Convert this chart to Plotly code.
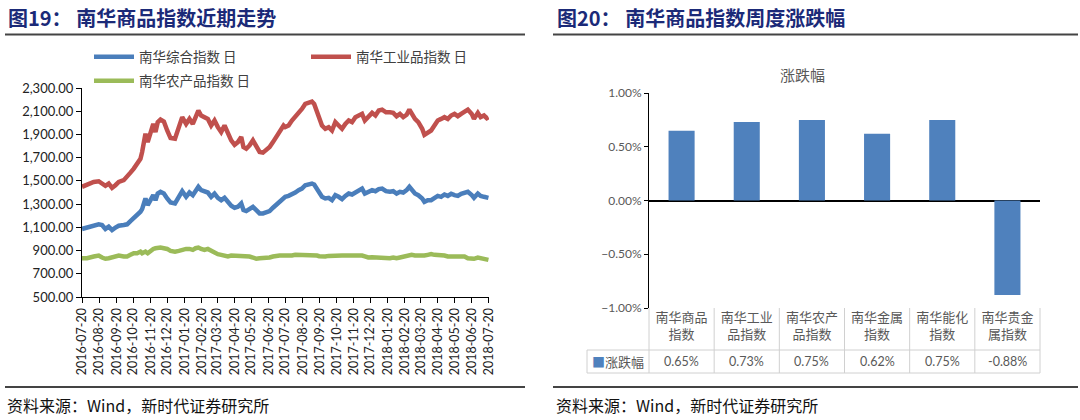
import plotly.graph_objects as go

# ---------------- data: left chart (南华商品指数近期走势) ----------------
dates = [
    "2016-07-20", "2016-07-29", "2016-08-10", "2016-08-19", "2016-08-25", "2016-08-31",
    "2016-09-06", "2016-09-12", "2016-09-18", "2016-09-24", "2016-10-03", "2016-10-09",
    "2016-10-15", "2016-10-21", "2016-10-27", "2016-11-02", "2016-11-05", "2016-11-11",
    "2016-11-15", "2016-11-20", "2016-11-25", "2016-11-29", "2016-12-03", "2016-12-08",
    "2016-12-14", "2016-12-20", "2016-12-26", "2017-01-03", "2017-01-10", "2017-01-16",
    "2017-01-23", "2017-01-29", "2017-02-04", "2017-02-09", "2017-02-14", "2017-02-19",
    "2017-02-25", "2017-03-03", "2017-03-09", "2017-03-15", "2017-03-21", "2017-03-27",
    "2017-04-02", "2017-04-08", "2017-04-14", "2017-04-20", "2017-04-26", "2017-05-02",
    "2017-05-06", "2017-05-11", "2017-05-17", "2017-05-23", "2017-05-29", "2017-06-04",
    "2017-06-10", "2017-06-16", "2017-06-22", "2017-06-28", "2017-07-04", "2017-07-10",
    "2017-07-17", "2017-07-20", "2017-07-26", "2017-08-01", "2017-08-07", "2017-08-13",
    "2017-08-19", "2017-08-25", "2017-08-31", "2017-09-06", "2017-09-10", "2017-09-15",
    "2017-09-19", "2017-09-24", "2017-09-30", "2017-10-06", "2017-10-12", "2017-10-18",
    "2017-10-24", "2017-10-30", "2017-11-05", "2017-11-11", "2017-11-17", "2017-11-23",
    "2017-11-29", "2017-12-05", "2017-12-10", "2017-12-16", "2017-12-23", "2017-12-29",
    "2018-01-04", "2018-01-10", "2018-01-17", "2018-01-24", "2018-01-30", "2018-02-05",
    "2018-02-11", "2018-02-17", "2018-02-23", "2018-02-28", "2018-03-04", "2018-03-10",
    "2018-03-16", "2018-03-23", "2018-03-27", "2018-04-02", "2018-04-08", "2018-04-14",
    "2018-04-20", "2018-04-26", "2018-05-02", "2018-05-08", "2018-05-14", "2018-05-20",
    "2018-05-26", "2018-06-01", "2018-06-07", "2018-06-13", "2018-06-20", "2018-06-24",
    "2018-07-01", "2018-07-06", "2018-07-12", "2018-07-17", "2018-07-20",
]

industrial = [  # 南华工业品指数
    1449, 1469, 1491, 1497, 1477, 1457, 1477, 1440, 1463, 1491, 1506, 1534,
    1571, 1606, 1649, 1691, 1749, 1906, 1834, 1920, 1991, 1920, 2006, 2029,
    2011, 1934, 1869, 1863, 1963, 2049, 1991, 2034, 1991, 2063, 2106, 2063,
    2049, 2034, 1977, 2020, 1963, 1920, 1977, 1906, 1849, 1811, 1834, 1877,
    1791, 1777, 1806, 1849, 1791, 1749, 1743, 1763, 1791, 1834, 1877, 1920,
    1977, 1963, 1977, 2020, 2049, 2091, 2120, 2163, 2171, 2183, 2163, 2091,
    2034, 1977, 1949, 1963, 1934, 2006, 1977, 1949, 1991, 2020, 2006, 2049,
    2063, 2077, 2020, 2049, 2086, 2063, 2106, 2114, 2091, 2091, 2086, 2057,
    2077, 2049, 2069, 2114, 2077, 2034, 2006, 1949, 1897, 1920, 1934, 1977,
    2020, 2034, 2049, 2034, 2063, 2077, 2057, 2077, 2091, 2114, 2077, 2034,
    2086, 2049, 2063, 2040, 2049,
]

composite = [  # 南华综合指数
    1086, 1097, 1120, 1126, 1120, 1086, 1106, 1077, 1097, 1114, 1120, 1126,
    1154, 1177, 1206, 1234, 1257, 1349, 1291, 1334, 1377, 1334, 1391, 1406,
    1391, 1349, 1314, 1306, 1363, 1411, 1363, 1400, 1377, 1411, 1449, 1420,
    1411, 1400, 1363, 1391, 1354, 1334, 1354, 1320, 1286, 1269, 1277, 1306,
    1249, 1240, 1257, 1277, 1249, 1220, 1220, 1234, 1240, 1269, 1297, 1320,
    1349, 1363, 1371, 1383, 1400, 1420, 1434, 1463, 1469, 1477, 1469, 1434,
    1400, 1363, 1349, 1354, 1334, 1377, 1363, 1343, 1371, 1391, 1383, 1400,
    1411, 1434, 1391, 1400, 1420, 1411, 1429, 1434, 1411, 1406, 1411, 1391,
    1406, 1400, 1420, 1449, 1420, 1391, 1377, 1349, 1320, 1334, 1334, 1349,
    1371, 1363, 1383, 1371, 1389, 1377, 1371, 1389, 1400, 1406, 1377, 1354,
    1391, 1371, 1363, 1363, 1354,
]

agricultural = [  # 南华农产品指数
    834, 834, 849, 857, 840, 829, 834, 840, 849, 857, 849, 849,
    863, 877, 877, 891, 877, 891, 877, 897, 914, 920, 926, 926,
    920, 914, 897, 891, 897, 906, 914, 914, 906, 920, 926, 914,
    906, 914, 897, 877, 869, 863, 857, 849, 857, 857, 849, 857,
    849, 849, 849, 840, 829, 834, 834, 840, 840, 849, 857, 857,
    857, 857, 849, 857, 863, 863, 857, 863, 863, 857, 857, 857,
    851, 849, 849, 854, 857, 854, 857, 857, 857, 857, 860, 857,
    863, 857, 849, 840, 843, 840, 840, 834, 834, 834, 840, 834,
    840, 849, 857, 863, 863, 857, 857, 849, 857, 863, 869, 863,
    863, 857, 857, 849, 849, 854, 857, 857, 849, 834, 829, 829,
    840, 834, 829, 820, 820,
]

tick_labels = [
    "2016-07-20", "2016-08-20", "2016-09-20", "2016-10-20", "2016-11-20", "2016-12-20",
    "2017-01-20", "2017-02-20", "2017-03-20", "2017-04-20", "2017-05-20", "2017-06-20",
    "2017-07-20", "2017-08-20", "2017-09-20", "2017-10-20", "2017-11-20", "2017-12-20",
    "2018-01-20", "2018-02-20", "2018-03-20", "2018-04-20", "2018-05-20", "2018-06-20",
    "2018-07-20",
]

series_names = ["南华综合指数 日", "南华工业品指数 日", "南华农产品指数 日"]

# ---------------- data: right chart (南华商品指数周度涨跌幅) ----------------
categories = ["南华商品指数", "南华工业品指数", "南华农产品指数",
              "南华金属指数", "南华能化指数", "南华贵金属指数"]
category_labels = ["南华商品<br>指数", "南华工业<br>品指数", "南华农产<br>品指数",
                   "南华金属<br>指数", "南华能化<br>指数", "南华贵金<br>属指数"]
weekly_change = [0.0065, 0.0073, 0.0075, 0.0062, 0.0075, -0.0088]
bar_series_name = "涨跌幅"

# ---------------- styling ----------------
W, H = 1080, 420
CJK = "Noto Sans CJK SC"
NUM = "Lato"
BLUE, RED, GREEN = "#4a7ebb", "#c0504d", "#9bbb59"
BAR = "#4f81bd"
NAVY = "#1b2a78"
GRAY = "#595959"


def px(x):
    return x / W


def py(y):
    return 1 - y / H


fig = go.Figure()

line_colors = [BLUE, RED, GREEN]
line_data = [composite, industrial, agricultural]
legend_ids = ["legend", "legend2", "legend3"]
for name, vals, col, lg in zip(series_names, line_data, line_colors, legend_ids):
    fig.add_trace(go.Scatter(
        x=dates, y=vals, mode="lines", name=name,
        line=dict(color=col, width=4.5), xaxis="x", yaxis="y",
        legend=lg, showlegend=True,
    ))

fig.add_trace(go.Bar(
    x=categories, y=weekly_change, name=bar_series_name,
    marker=dict(color=BAR, line=dict(width=0)),
    xaxis="x2", yaxis="y2", showlegend=False,
))

# plot-area geometry (pixels)
L_X0, L_X1, L_Y0, L_Y1 = 82, 489, 88, 297
R_X0, R_X1, R_Y0, R_Y1 = 649, 1040, 93, 308

legend_common = dict(
    orientation="h", bgcolor="rgba(0,0,0,0)", borderwidth=0,
    font=dict(family=CJK, size=13.5, color="#404040"),
    xanchor="left", yanchor="middle", itemwidth=40,
    tracegroupgap=0,
)

fig.update_layout(
    width=W, height=H,
    margin=dict(l=0, r=0, t=0, b=0, autoexpand=False),
    paper_bgcolor="white", plot_bgcolor="white",
    bargap=0.6,
    legend=dict(x=px(89), y=py(57), **legend_common),
    legend2=dict(x=px(306), y=py(57), **legend_common),
    legend3=dict(x=px(89), y=py(81), **legend_common),
    xaxis=dict(
        domain=[px(L_X0), px(L_X1)], anchor="y", type="date",
        range=["2016-07-20", "2018-07-21"],
        tickvals=tick_labels, ticktext=tick_labels, tickangle=-90,
        tickfont=dict(family=NUM, size=12.5, color="#222222"),
        showline=True, linecolor="#000000", linewidth=1,
        ticks="outside", ticklen=5, tickcolor="#000000",
        showgrid=False, zeroline=False, automargin=False,
    ),
    yaxis=dict(
        domain=[py(L_Y1), py(L_Y0)], anchor="x",
        range=[500, 2300], dtick=200, tick0=500, tickformat=",.2f",
        tickfont=dict(family=NUM, size=13, color="#222222"),
        showline=True, linecolor="#000000", linewidth=1,
        ticks="outside", ticklen=5, tickcolor="#000000",
        showgrid=False, zeroline=False, automargin=False,
    ),
    xaxis2=dict(
        domain=[px(R_X0), px(R_X1)], anchor="y2", type="category",
        tickvals=categories, ticktext=category_labels,
        tickfont=dict(family=CJK, size=13, color=GRAY),
        showline=False, ticks="", showgrid=False, zeroline=False, automargin=False,
    ),
    yaxis2=dict(
        domain=[py(R_Y1), py(R_Y0)], anchor="x2",
        range=[-0.01, 0.01], dtick=0.005, tickformat=".2%",
        tickfont=dict(family=NUM, size=12, color=GRAY),
        showline=True, linecolor="#000000", linewidth=1,
        ticks="outside", ticklen=4, tickcolor="#000000",
        showgrid=False, zeroline=True, zerolinecolor="#000000", zerolinewidth=1.5,
        automargin=False,
    ),
)

shapes = []
# header / footer rules
for x0, x1 in [(5, 525), (553, 1078)]:
    shapes.append(dict(type="line", xref="paper", yref="paper",
                       x0=px(x0), x1=px(x1), y0=py(34.5), y1=py(34.5),
                       line=dict(color="#444444", width=2)))
    shapes.append(dict(type="line", xref="paper", yref="paper",
                       x0=px(x0), x1=px(x1), y0=py(387), y1=py(387),
                       line=dict(color="#444444", width=2)))

# data table grid under the bar chart
TBL_TOP, TBL_MID, TBL_BOT, KEY_X0 = 308, 350, 373, 587
cell_w = (R_X1 - R_X0) / len(categories)
grid = dict(color="#d0d0d0", width=1)
for i in range(len(categories) + 1):
    xx = R_X0 + i * cell_w
    shapes.append(dict(type="line", xref="paper", yref="paper",
                       x0=px(xx), x1=px(xx), y0=py(TBL_TOP), y1=py(TBL_BOT), line=grid))
shapes.append(dict(type="line", xref="paper", yref="paper",
                   x0=px(KEY_X0), x1=px(KEY_X0), y0=py(TBL_MID), y1=py(TBL_BOT), line=grid))
for yy, xa in [(TBL_MID, KEY_X0), (TBL_BOT, KEY_X0)]:
    shapes.append(dict(type="line", xref="paper", yref="paper",
                       x0=px(xa), x1=px(R_X1), y0=py(yy), y1=py(yy), line=grid))
fig.update_layout(shapes=shapes)

P = dict(xref="paper", yref="paper", showarrow=False)
annotations = [
    dict(text="<b>图19： 南华商品指数近期走势</b>", x=px(6), y=py(18),
         xanchor="left", yanchor="middle",
         font=dict(family=CJK, size=20, color=NAVY), **P),
    dict(text="<b>图20： 南华商品指数周度涨跌幅</b>", x=px(555), y=py(18),
         xanchor="left", yanchor="middle",
         font=dict(family=CJK, size=20, color=NAVY), **P),
    dict(text="资料来源：Wind，新时代证券研究所", x=px(5), y=py(405),
         xanchor="left", yanchor="middle",
         font=dict(family=CJK, size=16, color="#111111"), **P),
    dict(text="资料来源：Wind，新时代证券研究所", x=px(554), y=py(405),
         xanchor="left", yanchor="middle",
         font=dict(family=CJK, size=16, color="#111111"), **P),
    dict(text=bar_series_name, x=px(802), y=py(74),
         xanchor="center", yanchor="middle",
         font=dict(family=CJK, size=15, color=GRAY), **P),
    dict(text=f"<span style='color:{BAR}'>■</span>{bar_series_name}",
         x=px((KEY_X0 + R_X0) / 2), y=py((TBL_MID + TBL_BOT) / 2),
         xanchor="center", yanchor="middle",
         font=dict(family=CJK, size=13, color=GRAY), **P),
]
for cat, v in zip(categories, weekly_change):
    annotations.append(dict(
        text=f"{v * 100:.2f}%", x=cat, xref="x2", y=py((TBL_MID + TBL_BOT) / 2),
        yref="paper", xanchor="center", yanchor="middle", showarrow=False,
        font=dict(family=NUM, size=12.5, color=GRAY)))
fig.update_layout(annotations=annotations)

fig.write_html("out.html")
